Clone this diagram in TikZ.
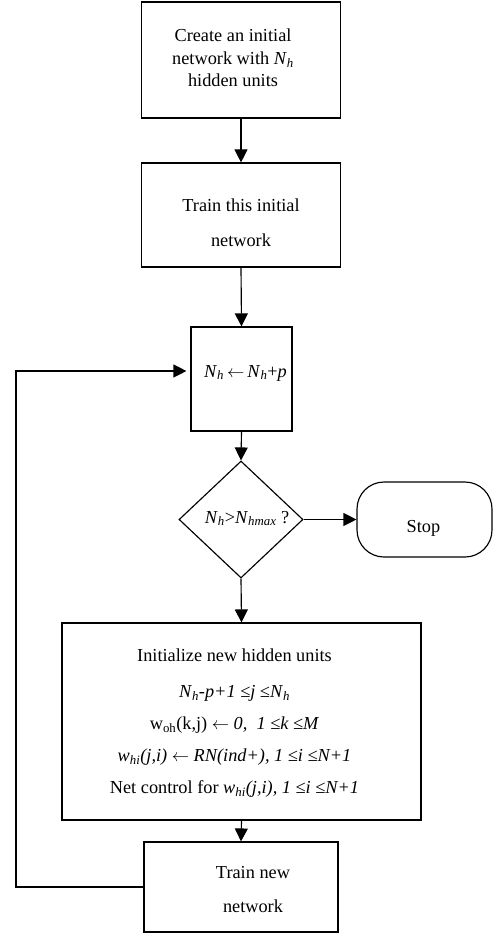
\documentclass[tikz,border=0pt]{standalone}
\usepackage{fontspec}
\setmainfont{Liberation Serif}
\usetikzlibrary{shapes.geometric,arrows.meta}
\newcommand{\Nh}{\textit{N}\textsubscript{\itshape h}}
\newcommand{\isub}[1]{\textsubscript{\itshape #1}}
\newcommand{\assignarrow}{\ensuremath{\leftarrow}}
\begin{document}
\begin{tikzpicture}[x=1pt,y=-1pt,
  line width=1.15pt,
  every node/.style={font=\fontsize{18.3}{22.5}\selectfont},
  box/.style={draw, rectangle, inner sep=0pt},
  flow/.style={-{Triangle[length=13pt,width=13pt]}}]
\useasboundingbox (0,0) rectangle (493,936);

% process boxes
\node[box, minimum width=199pt, minimum height=116pt,
  label={[xshift=-8pt,yshift=2pt,align=center]center:Create an initial\\network with \Nh\\hidden units}]
  (create) at (241,60) {};
\node[box, minimum width=199pt, minimum height=104pt,
  label={[yshift=-8pt,align=center,font=\fontsize{18.3}{35}\selectfont]center:Train this initial\\network}]
  (train0) at (241,215) {};
\node[box, minimum width=101pt, minimum height=104pt,
  label={[xshift=4pt,yshift=6pt]center:\Nh\,\assignarrow\,\Nh+\textit{p}}]
  (grow) at (241.5,379) {};

% decision and terminal
\node[draw, diamond, inner sep=0pt, minimum width=124pt, minimum height=117pt,
  label={[xshift=6pt,yshift=1pt]center:\Nh>\textit{N}\isub{hmax} ?}]
  (test) at (241,519.5) {};
\node[draw, rectangle, rounded corners=27pt, minimum width=135pt, minimum height=75pt,
  label={[xshift=-1pt,yshift=-9pt]center:Stop}]
  (stop) at (424.5,519.5) {};

% initialisation of the new units
\node[box, minimum width=359pt, minimum height=197pt,
  label={[xshift=-7pt,yshift=-2pt,align=center,font=\fontsize{18.3}{32}\selectfont]center:Initialize new hidden units\\[4pt]
    \Nh-\textit{p+1 ≤j ≤}\Nh\\
    w\textsubscript{oh}(k,j) \assignarrow{} \textit{0,\ \ 1 ≤k ≤M}\\
    \textit{w}\isub{hi}\textit{(j,i)} \assignarrow{} \textit{RN(ind+), 1 ≤i ≤N+1}\\
    Net control for \textit{w}\isub{hi}\textit{(j,i), 1 ≤i ≤N+1}}]
  (init) at (241.5,721.5) {};
\node[box, minimum width=194pt, minimum height=90pt,
  label={[xshift=12pt,yshift=-3pt,align=center,font=\fontsize{18.3}{34}\selectfont]center:Train new\\network}]
  (trainN) at (241,887) {};

\coordinate (loopx) at (16,0);
\coordinate (entry) at ([yshift=8pt]grow.west);

% connectors
\draw[flow] (create.south) -- (train0.north);
\draw[flow] (train0.south) -- (grow.north);
\draw[flow] (grow.south) -- (test.north);
\draw[flow] (test.east) -- (stop.west);
\draw[flow] (test.south) -- (init.north);
\draw[flow] (init.south) -- (trainN.north);
\draw[flow, shorten >=4pt] (trainN.west) -- (loopx |- trainN.west)
  -- (loopx |- entry) -- (entry);
\end{tikzpicture}
\end{document}
